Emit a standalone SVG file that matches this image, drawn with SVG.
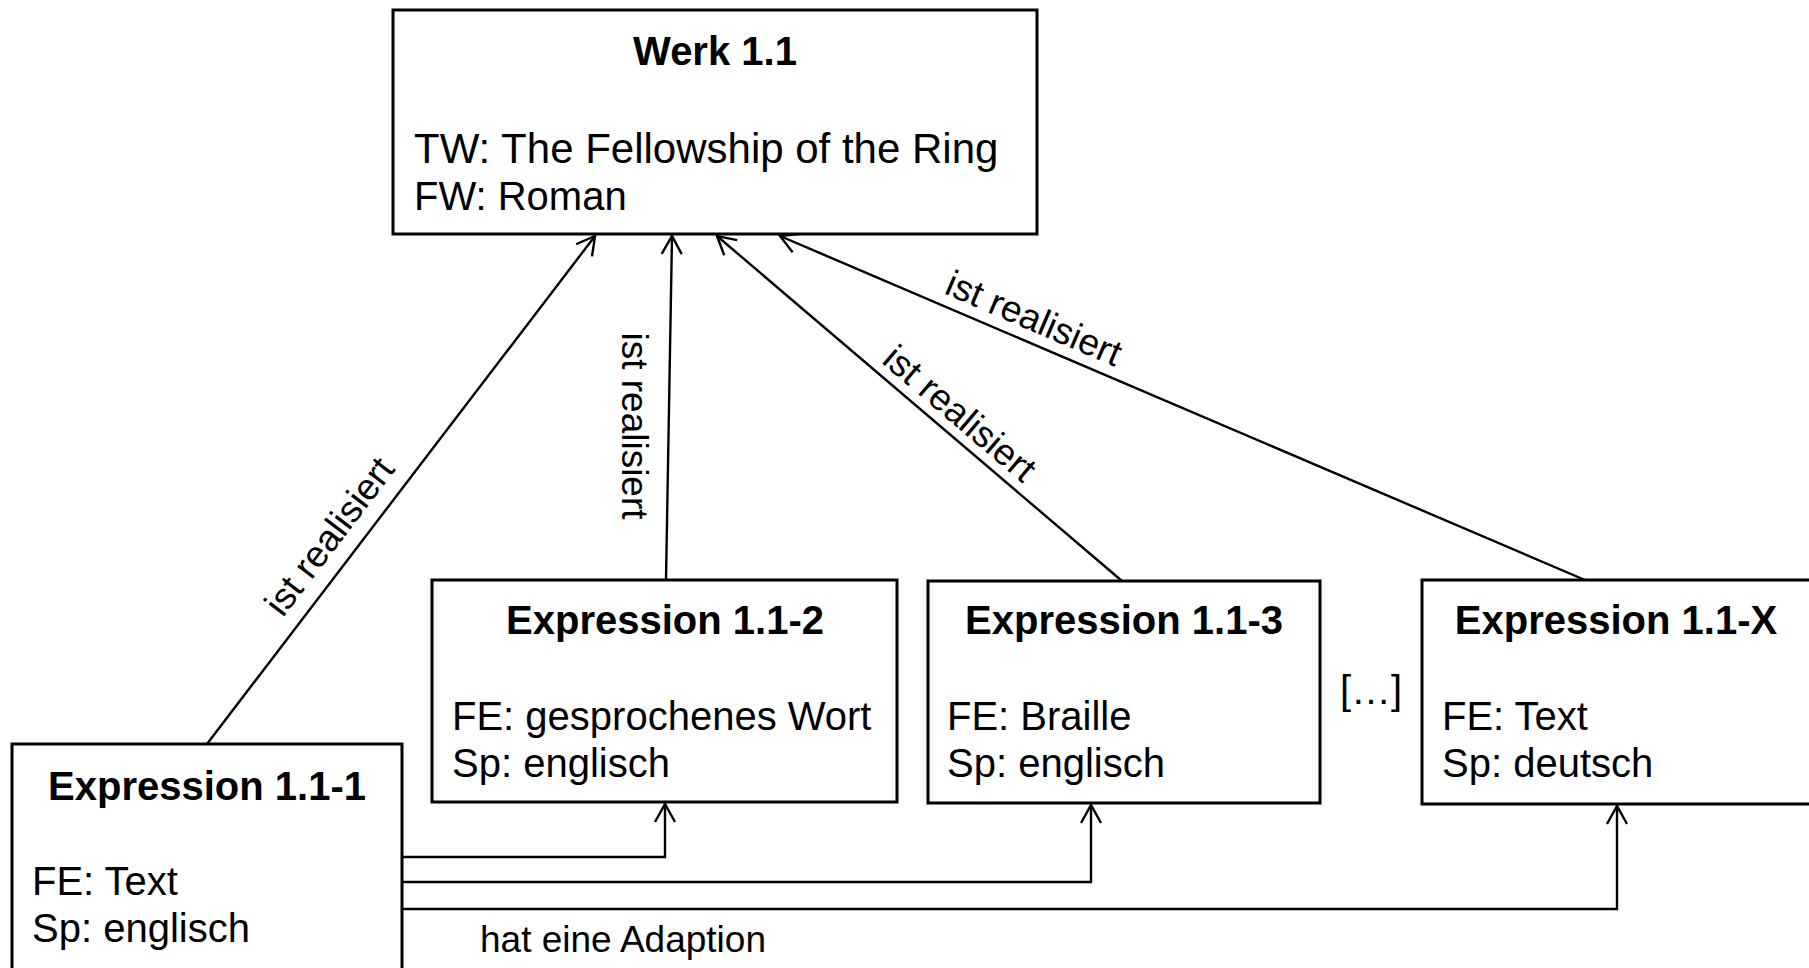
<svg xmlns="http://www.w3.org/2000/svg" width="1809" height="968" viewBox="0 0 1809 968">
  <style>
    text { font-family: "Liberation Sans", Arial, sans-serif; fill: #000; }
    .box { fill: #fff; stroke: #000; stroke-width: 3; }
    .title { font-size: 40px; font-weight: bold; text-anchor: middle; }
    .body { font-size: 40px; }
    .conn { fill: none; stroke: #000; stroke-width: 2.4; }
    .lbl { font-size: 37px; text-anchor: middle; }
  </style>
  <defs>
    <marker id="open" viewBox="0 0 24 24" markerUnits="userSpaceOnUse" markerWidth="24" markerHeight="24" refX="21" refY="12" orient="auto">
      <path d="M3,2 L21,12 L3,22" fill="none" stroke="#000" stroke-width="2.4"/>
    </marker>
  </defs>
  <rect width="1809" height="968" fill="#fff"/>

  <g id="connectors">
    <line class="conn" x1="207" y1="744" x2="595" y2="236" marker-end="url(#open)"/>
    <line class="conn" x1="666" y1="580" x2="672" y2="236" marker-end="url(#open)"/>
    <line class="conn" x1="1122" y1="581" x2="717" y2="236" marker-end="url(#open)"/>
    <line class="conn" x1="1585" y1="580" x2="780" y2="236" marker-end="url(#open)"/>
    <path class="conn" d="M402,857 H665 V804" marker-end="url(#open)"/>
    <path class="conn" d="M402,882 H1091 V805" marker-end="url(#open)"/>
    <path class="conn" d="M402,909 H1617 V806" marker-end="url(#open)"/>
    <text class="lbl" transform="translate(329,536) rotate(-52.7)" y="13">ist realisiert</text>
    <text class="lbl" transform="translate(635,426) rotate(90)" y="13">ist realisiert</text>
    <text class="lbl" transform="translate(960,413) rotate(40.5)" y="13">ist realisiert</text>
    <text class="lbl" transform="translate(1034,318) rotate(23.2)" y="13">ist realisiert</text>
    <text class="lbl" x="480" y="952" style="text-anchor:start">hat eine Adaption</text>
  </g>

  <g id="werk">
    <rect class="box" x="393" y="10" width="644" height="224"/>
    <text class="title" x="715" y="65">Werk 1.1</text>
    <text class="body" x="414" y="163" style="font-size:42px">TW: The Fellowship of the Ring</text>
    <text class="body" x="414" y="210">FW: Roman</text>
  </g>

  <g id="expr1">
    <rect class="box" x="12" y="744" width="390" height="260"/>
    <text class="title" x="207" y="800">Expression 1.1-1</text>
    <text class="body" x="32" y="895">FE: Text</text>
    <text class="body" x="32" y="942">Sp: englisch</text>
  </g>

  <g id="expr2">
    <rect class="box" x="432" y="580" width="465" height="222"/>
    <text class="title" x="665" y="634">Expression 1.1-2</text>
    <text class="body" x="452" y="730">FE: gesprochenes Wort</text>
    <text class="body" x="452" y="777">Sp: englisch</text>
  </g>

  <g id="expr3">
    <rect class="box" x="928" y="581" width="392" height="222"/>
    <text class="title" x="1124" y="634">Expression 1.1-3</text>
    <text class="body" x="947" y="730">FE: Braille</text>
    <text class="body" x="947" y="777">Sp: englisch</text>
  </g>

  <g id="ellipsis">
    <text class="body" x="1340" y="704">[…]</text>
  </g>

  <g id="exprX">
    <rect class="box" x="1422" y="580" width="392" height="224"/>
    <text class="title" x="1616" y="634">Expression 1.1-X</text>
    <text class="body" x="1442" y="730">FE: Text</text>
    <text class="body" x="1442" y="777">Sp: deutsch</text>
  </g>
</svg>
